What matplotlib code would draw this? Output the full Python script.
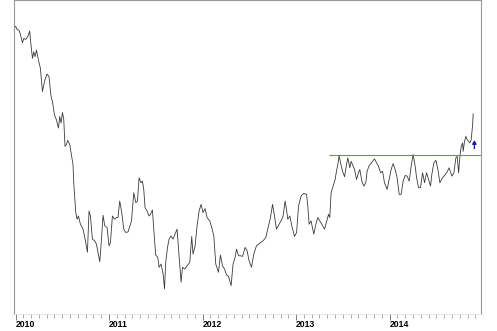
import matplotlib.pyplot as plt
from matplotlib.ticker import MultipleLocator, FixedLocator

# weekly closes (turning points), time in decimal years
t = [2009.990, 2010.002, 2010.016, 2010.037, 2010.052, 2010.074, 2010.088, 2010.109, 2010.134, 2010.152,
     2010.159, 2010.181, 2010.195, 2010.209, 2010.224, 2010.245, 2010.266, 2010.288, 2010.309, 2010.337,
     2010.358, 2010.380, 2010.395, 2010.416, 2010.437, 2010.459, 2010.473, 2010.487, 2010.502, 2010.516,
     2010.529, 2010.544, 2010.558, 2010.580, 2010.594, 2010.615, 2010.622, 2010.644, 2010.658, 2010.673,
     2010.694, 2010.722, 2010.740, 2010.769, 2010.786, 2010.801, 2010.822, 2010.847, 2010.865, 2010.882,
     2010.901, 2010.919, 2010.936, 2010.954, 2010.979, 2011.000, 2011.015, 2011.036, 2011.058, 2011.079,
     2011.096, 2011.114, 2011.136, 2011.157, 2011.179, 2011.203, 2011.240, 2011.264, 2011.286, 2011.304,
     2011.321, 2011.342, 2011.357, 2011.371, 2011.385, 2011.406, 2011.428, 2011.443, 2011.464, 2011.478,
     2011.499, 2011.521, 2011.535, 2011.556, 2011.578, 2011.593, 2011.606, 2011.625, 2011.642, 2011.663,
     2011.684, 2011.706, 2011.727, 2011.749, 2011.770, 2011.785, 2011.810, 2011.834, 2011.863, 2011.884,
     2011.898, 2011.920, 2011.941, 2011.963, 2011.984, 2012.005, 2012.027, 2012.048, 2012.077, 2012.098,
     2012.120, 2012.141, 2012.170, 2012.191, 2012.213, 2012.234, 2012.256, 2012.277, 2012.305, 2012.326,
     2012.348, 2012.363, 2012.384, 2012.405, 2012.427, 2012.455, 2012.476, 2012.497, 2012.523, 2012.547,
     2012.576, 2012.612, 2012.647, 2012.676, 2012.701, 2012.726, 2012.748, 2012.769, 2012.790, 2012.818,
     2012.847, 2012.861, 2012.882, 2012.897, 2012.911, 2012.933, 2012.954, 2012.983, 2013.005, 2013.026,
     2013.053, 2013.082, 2013.111, 2013.125, 2013.139, 2013.160, 2013.189, 2013.211, 2013.232, 2013.253,
     2013.282, 2013.304, 2013.332, 2013.347, 2013.360, 2013.374, 2013.396, 2013.417, 2013.432, 2013.446,
     2013.460, 2013.475, 2013.496, 2013.518, 2013.539, 2013.553, 2013.574, 2013.588, 2013.610, 2013.625,
     2013.646, 2013.667, 2013.681, 2013.703, 2013.724, 2013.745, 2013.759, 2013.781, 2013.810, 2013.838,
     2013.860, 2013.881, 2013.903, 2013.924, 2013.945, 2013.973, 2013.995, 2014.016, 2014.037, 2014.059,
     2014.080, 2014.102, 2014.123, 2014.144, 2014.166, 2014.187, 2014.209, 2014.230, 2014.251, 2014.273,
     2014.288, 2014.309, 2014.330, 2014.352, 2014.373, 2014.395, 2014.416, 2014.437, 2014.451, 2014.473,
     2014.494, 2014.516, 2014.537, 2014.558, 2014.587, 2014.609, 2014.636, 2014.665, 2014.687, 2014.708,
     2014.722, 2014.737, 2014.751, 2014.765, 2014.780, 2014.786, 2014.801, 2014.815, 2014.829, 2014.844,
     2014.858, 2014.872, 2014.887, 2014.893]

close = [33.77, 33.90, 33.57, 33.50, 33.10, 32.23, 32.67, 32.57, 32.90, 33.43,
         32.57, 30.67, 31.33, 30.83, 31.50, 30.50, 29.67, 27.33, 28.33, 29.10,
         28.83, 26.83, 26.33, 25.00, 24.50, 23.67, 24.83, 24.17, 25.23, 24.50,
         21.83, 22.00, 22.43, 22.00, 21.17, 20.00, 18.20, 15.20, 14.50, 14.83,
         14.00, 13.50, 12.70, 11.20, 15.33, 14.83, 12.50, 12.33, 12.00, 11.17,
         10.23, 12.50, 14.90, 13.83, 13.67, 11.83, 12.17, 14.83, 14.50, 14.67,
         14.67, 16.33, 15.17, 13.50, 13.17, 13.23, 14.33, 17.17, 16.17, 16.33,
         18.67, 18.17, 18.33, 17.50, 15.67, 15.33, 14.83, 15.00, 15.43, 13.50,
         10.90, 10.67, 9.67, 10.00, 9.00, 7.50, 10.17, 11.67, 12.50, 12.83,
         12.50, 13.00, 13.50, 10.83, 8.17, 9.67, 9.50, 9.83, 10.17, 12.77,
         11.00, 11.83, 13.83, 15.33, 16.00, 15.17, 15.57, 14.67, 14.33, 13.67,
         12.83, 10.00, 9.17, 10.90, 9.83, 9.50, 8.90, 8.77, 7.83, 10.00,
         10.67, 11.50, 10.83, 10.83, 10.77, 11.67, 11.33, 10.33, 9.67, 11.00,
         11.83, 12.10, 12.33, 12.67, 13.67, 14.67, 16.00, 14.83, 13.50, 14.00,
         14.50, 14.83, 16.33, 15.50, 14.50, 14.83, 13.83, 12.77, 13.17, 15.83,
         16.83, 17.10, 17.00, 15.83, 14.00, 14.33, 13.00, 14.00, 14.67, 14.33,
         13.90, 13.50, 14.50, 15.00, 14.67, 17.17, 17.83, 18.50, 19.33, 20.00,
         20.90, 20.17, 19.33, 18.77, 20.00, 20.67, 19.67, 20.33, 19.83, 19.50,
         18.50, 19.17, 19.50, 18.33, 17.83, 18.17, 19.33, 19.90, 20.23, 20.57,
         20.17, 19.83, 19.17, 19.33, 18.17, 17.50, 18.50, 19.50, 20.10, 19.50,
         18.67, 17.00, 17.00, 18.33, 18.90, 18.83, 18.33, 19.83, 21.00, 19.83,
         18.67, 17.67, 17.67, 19.17, 18.17, 19.17, 18.50, 17.83, 19.00, 20.17,
         20.43, 19.50, 18.17, 18.57, 18.90, 19.17, 19.67, 18.83, 19.17, 20.67,
         20.83, 19.17, 20.83, 21.83, 22.17, 21.33, 22.33, 22.83, 22.50, 22.33,
         22.17, 22.50, 24.00, 25.10]

resistance = 21.0
res_start, res_end = 2013.35, 2014.975
arrow_t, arrow_lo, arrow_hi = 2014.906, 21.6, 22.45
years = [2010, 2011, 2012, 2013, 2014]

fig = plt.figure(figsize=(4.97, 3.31), dpi=100)
ax = fig.add_axes([0.0282, 0.052, 0.9406, 0.947])

ax.plot(t, close, color='#3a3a3a', lw=0.6)
ax.hlines(resistance, res_start, res_end, color='#7878c8', lw=0.8)
ax.annotate('', xy=(arrow_t, arrow_hi), xytext=(arrow_t, arrow_lo),
            arrowprops=dict(arrowstyle='-|>,head_width=0.12,head_length=0.2',
                            color='#1c1ca8', lw=1.0, shrinkA=0, shrinkB=0))

ax.set_xlim(2009.984, 2014.982)
ax.set_ylim(5.0, 36.5)
ax.set_yticks([])

ax.xaxis.set_major_locator(FixedLocator(years))
ax.xaxis.set_minor_locator(MultipleLocator(1 / 12))
ax.set_xticklabels([str(y) for y in years], fontfamily='Liberation Sans',
                   fontweight='bold', fontsize=6.2, ha='left')
ax.tick_params(axis='x', which='major', direction='out', length=4, width=0.6,
               color='#666666', pad=0.8)
ax.tick_params(axis='x', which='minor', direction='out', length=3, width=0.5,
               color='#888888')

for side in ['left', 'top', 'right']:
    ax.spines[side].set_color('#999999')
    ax.spines[side].set_linewidth(0.8)
ax.spines['bottom'].set_color('#dddddd')
ax.spines['bottom'].set_linewidth(0.5)

fig.savefig('out.png', dpi=100)
